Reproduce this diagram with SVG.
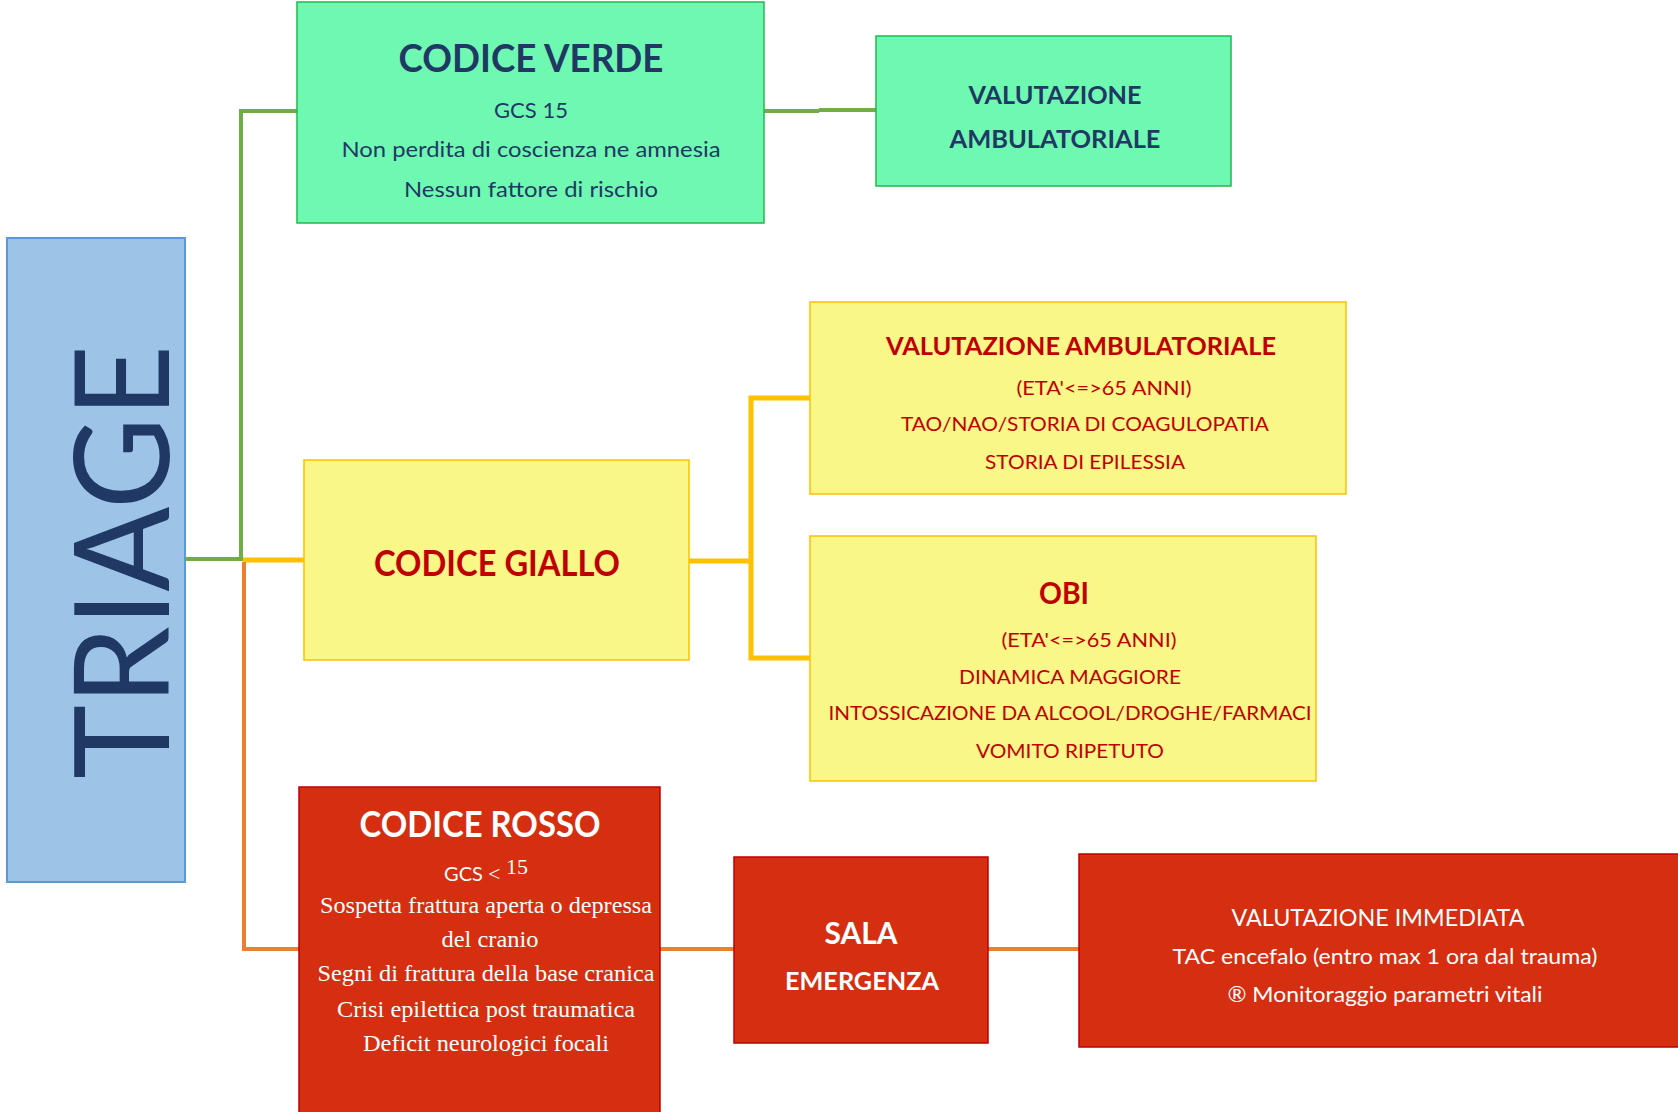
<svg xmlns="http://www.w3.org/2000/svg" width="1678" height="1112" viewBox="0 0 1678 1112">
<style>
.t{font-family:Lato,"Open Sans","Liberation Sans",sans-serif;text-anchor:middle}
.s{font-family:"Liberation Serif","DejaVu Serif",serif;text-anchor:middle;fill:#ffffff}
.b{font-weight:bold}
.navy{fill:#1F3864}
.dred{fill:#C00000}
.wh{fill:#ffffff}
.green{fill:#6FF8B2;stroke:#22B84E;stroke-width:1.5}
.yel{fill:#F8F788;stroke:#FFC000;stroke-width:1.5}
.red{fill:#D52E10;stroke:#C00000;stroke-width:1.5}
.cg{stroke:#70AD47;stroke-width:4;fill:none}
.cy{stroke:#FFC000;stroke-width:5;fill:none}
.co{stroke:#ED7D31;stroke-width:4;fill:none}
</style>
<rect width="1678" height="1112" fill="#ffffff"/>
<g id="connectors">
<polyline class="cg" points="185,559 241,559 241,111 297,111"/>
<polyline class="cg" points="764,111 819,111"/>
<polyline class="cg" stroke-width="5" points="819,110 876,110"/>
<polyline class="cy" points="243,560 304,560"/>
<polyline class="co" points="244,562 244,949 299,949"/>
<polyline class="cy" points="689,561 751,561"/>
<polyline class="cy" stroke-width="6" points="810,398 751,398 751,658 810,658"/>
<polyline class="co" points="660,949 696,949 734,949"/>
<polyline class="co" points="988,949 1079,949"/>
</g>
<g id="triage">
<rect x="7" y="238" width="178" height="644" fill="#9DC3E6" stroke="#5B9BD5" stroke-width="2"/>
<text class="t navy" transform="translate(169,562) rotate(-90)" font-size="132" textLength="434" lengthAdjust="spacingAndGlyphs">TRIAGE</text>
</g>
<g id="codice-verde">
<rect class="green" x="297" y="2" width="467" height="221"/>
<text class="t b navy" x="531" y="72" font-size="39" textLength="265" lengthAdjust="spacingAndGlyphs">CODICE VERDE</text>
<text class="t navy" x="531" y="118" font-size="22" textLength="74" lengthAdjust="spacingAndGlyphs">GCS 15</text>
<text class="t navy" x="531" y="157" font-size="22" textLength="379" lengthAdjust="spacingAndGlyphs">Non perdita di coscienza ne amnesia</text>
<text class="t navy" x="531" y="197" font-size="22" textLength="254" lengthAdjust="spacingAndGlyphs">Nessun fattore di rischio</text>
</g>
<g id="valutazione-verde">
<rect class="green" x="876" y="36" width="355" height="150"/>
<text class="t b navy" x="1055" y="104" font-size="25" textLength="173" lengthAdjust="spacingAndGlyphs">VALUTAZIONE</text>
<text class="t b navy" x="1055" y="148" font-size="25" textLength="211" lengthAdjust="spacingAndGlyphs">AMBULATORIALE</text>
</g>
<g id="codice-giallo">
<rect class="yel" x="304" y="460" width="385" height="200"/>
<text class="t b dred" x="497" y="576" font-size="36" textLength="246" lengthAdjust="spacingAndGlyphs">CODICE GIALLO</text>
</g>
<g id="valutazione-gialla">
<rect class="yel" x="810" y="302" width="536" height="192"/>
<text class="t b dred" x="1081" y="355" font-size="24" textLength="390" lengthAdjust="spacingAndGlyphs">VALUTAZIONE AMBULATORIALE</text>
<text class="t dred" x="1104" y="395" font-size="20" textLength="175" lengthAdjust="spacingAndGlyphs">(ETA'&lt;=&gt;65 ANNI)</text>
<text class="t dred" x="1085" y="431" font-size="20" textLength="368" lengthAdjust="spacingAndGlyphs">TAO/NAO/STORIA DI COAGULOPATIA</text>
<text class="t dred" x="1085" y="469" font-size="20" textLength="200" lengthAdjust="spacingAndGlyphs">STORIA DI EPILESSIA</text>
</g>
<g id="obi">
<rect class="yel" x="810" y="536" width="506" height="245"/>
<text class="t b dred" x="1064" y="604" font-size="31" textLength="50" lengthAdjust="spacingAndGlyphs">OBI</text>
<text class="t dred" x="1089" y="647" font-size="20" textLength="175" lengthAdjust="spacingAndGlyphs">(ETA'&lt;=&gt;65 ANNI)</text>
<text class="t dred" x="1070" y="684" font-size="20" textLength="222" lengthAdjust="spacingAndGlyphs">DINAMICA MAGGIORE</text>
<text class="t dred" x="1070" y="720" font-size="20" textLength="483" lengthAdjust="spacingAndGlyphs">INTOSSICAZIONE DA ALCOOL/DROGHE/FARMACI</text>
<text class="t dred" x="1070" y="758" font-size="20" textLength="188" lengthAdjust="spacingAndGlyphs">VOMITO RIPETUTO</text>
</g>
<g id="codice-rosso">
<rect class="red" x="299" y="787" width="361" height="330"/>
<text class="t b wh" x="480" y="837" font-size="36" textLength="241" lengthAdjust="spacingAndGlyphs">CODICE ROSSO</text>
<text x="486" y="881" text-anchor="middle"><tspan style="font-family:Lato,'Liberation Sans',sans-serif" fill="#ffffff" font-size="20">GCS  </tspan><tspan style="font-family:'Liberation Serif',serif" fill="#ffffff" font-size="22">&lt; </tspan><tspan style="font-family:'Liberation Serif',serif" fill="#ffffff" font-size="22" dy="-7">15</tspan></text>
<text class="s" x="486" y="913" font-size="23" textLength="332" lengthAdjust="spacingAndGlyphs">Sospetta frattura aperta o depressa</text>
<text class="s" x="490" y="947" font-size="23" textLength="97" lengthAdjust="spacingAndGlyphs">del cranio</text>
<text class="s" x="486" y="981" font-size="23" textLength="337" lengthAdjust="spacingAndGlyphs">Segni di frattura della base cranica</text>
<text class="s" x="486" y="1017" font-size="23" textLength="298" lengthAdjust="spacingAndGlyphs">Crisi epilettica post traumatica</text>
<text class="s" x="486" y="1051" font-size="23" textLength="246" lengthAdjust="spacingAndGlyphs">Deficit neurologici focali</text>
</g>
<g id="sala-emergenza">
<rect class="red" x="734" y="857" width="254" height="186"/>
<text class="t b wh" x="861" y="944" font-size="30" textLength="73" lengthAdjust="spacingAndGlyphs">SALA</text>
<text class="t b wh" x="862" y="990" font-size="25" textLength="154" lengthAdjust="spacingAndGlyphs">EMERGENZA</text>
</g>
<g id="valutazione-immediata">
<rect class="red" x="1079" y="854" width="605" height="193"/>
<text class="t wh" x="1378" y="926" font-size="23" textLength="293" lengthAdjust="spacingAndGlyphs">VALUTAZIONE IMMEDIATA</text>
<text class="t wh" x="1385" y="964" font-size="21" textLength="425" lengthAdjust="spacingAndGlyphs">TAC encefalo (entro  max 1 ora dal trauma)</text>
<text class="t wh" x="1385" y="1002" font-size="21" textLength="315" lengthAdjust="spacingAndGlyphs">® Monitoraggio parametri vitali</text>
</g>
</svg>
